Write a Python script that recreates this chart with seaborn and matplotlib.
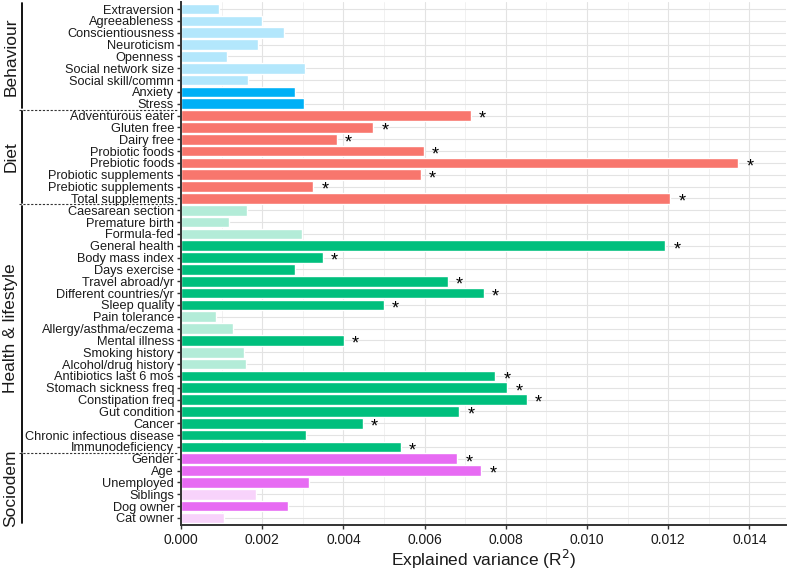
import matplotlib
matplotlib.use("Agg")
import matplotlib.pyplot as plt
import matplotlib.colors as mcolors
import matplotlib.transforms as mtransforms
from matplotlib.ticker import MultipleLocator
import pandas as pd
import seaborn as sns

# Data
labels = [
    "Extraversion", "Agreeableness", "Conscientiousness", "Neuroticism", "Openness",
    "Social network size", "Social skill/commn", "Anxiety", "Stress",
    "Adventurous eater", "Gluten free", "Dairy free", "Probiotic foods", "Prebiotic foods",
    "Probiotic supplements", "Prebiotic supplements", "Total supplements",
    "Caesarean section", "Premature birth", "Formula-fed", "General health", "Body mass index",
    "Days exercise", "Travel abroad/yr", "Different countries/yr", "Sleep quality",
    "Pain tolerance", "Allergy/asthma/eczema", "Mental illness", "Smoking history",
    "Alcohol/drug history", "Antibiotics last 6 mos", "Stomach sickness freq",
    "Constipation freq", "Gut condition", "Cancer", "Chronic infectious disease",
    "Immunodeficiency",
    "Gender", "Age", "Unemployed", "Siblings", "Dog owner", "Cat owner",
]
values = [
    0.00093, 0.00200, 0.00254, 0.00190, 0.00113, 0.00306, 0.00164, 0.00280, 0.00304,
    0.00713, 0.00474, 0.00383, 0.00598, 0.01373, 0.00590, 0.00326, 0.01205,
    0.00162, 0.00117, 0.00298, 0.01193, 0.00349, 0.00280, 0.00657, 0.00745, 0.00499,
    0.00085, 0.00129, 0.00401, 0.00155, 0.00161, 0.00774, 0.00803, 0.00852, 0.00685,
    0.00447, 0.00309, 0.00541,
    0.00680, 0.00739, 0.00316, 0.00185, 0.00264, 0.00107,
]
groups = (["Behaviour"] * 9 + ["Diet"] * 8 + ["Health & lifestyle"] * 21 + ["Sociodem"] * 6)
significant = [
    0, 0, 0, 0, 0, 0, 0, 1, 1,
    1, 1, 1, 1, 1, 1, 1, 1,
    0, 0, 0, 1, 1, 1, 1, 1, 1, 0, 0, 1, 0, 0, 1, 1, 1, 1, 1, 1, 1,
    1, 1, 1, 0, 1, 0,
]
starred = [
    0, 0, 0, 0, 0, 0, 0, 0, 0,
    1, 1, 1, 1, 1, 1, 1, 1,
    0, 0, 0, 1, 1, 0, 1, 1, 1, 0, 0, 1, 0, 0, 1, 1, 1, 1, 1, 0, 1,
    1, 1, 0, 0, 0, 0,
]
group_names = ["Behaviour", "Diet", "Health & lifestyle", "Sociodem"]
group_colors = {"Behaviour": "#00B0F6", "Diet": "#F8766D",
                "Health & lifestyle": "#00BF7D", "Sociodem": "#E76BF3"}


def lighten(color, alpha=0.3):
    r, g, b = mcolors.to_rgb(color)
    return (1 - alpha + alpha * r, 1 - alpha + alpha * g, 1 - alpha + alpha * b)


df = pd.DataFrame({"label": labels, "value": values, "group": groups,
                   "sig": significant, "star": starred})
bar_colors = [group_colors[g] if s else lighten(group_colors[g])
              for g, s in zip(df["group"], df["sig"])]

sns.set_style("white")
plt.rcParams["font.family"] = ["Liberation Sans", "DejaVu Sans"]

fig = plt.figure(figsize=(7.94, 5.74), dpi=100)
ax = fig.add_axes([181 / 794, 1 - 525 / 574, (786 - 181) / 794, 523 / 574])

sns.barplot(data=df, x="value", y="label", hue="label", palette=bar_colors,
            order=labels, hue_order=labels, legend=False, width=0.9,
            saturation=1, orient="h", ax=ax)

ax.set_xlim(0, 0.0149)
ax.set_ylim(len(labels) - 0.4, -0.6)
ax.xaxis.set_major_locator(MultipleLocator(0.002))
ax.xaxis.set_minor_locator(MultipleLocator(0.001))
ax.xaxis.set_major_formatter(matplotlib.ticker.FormatStrFormatter("%.3f"))
ax.set_axisbelow(True)
ax.grid(True, which="major", axis="both", color="#e3e3e3", linewidth=0.8)
ax.grid(True, which="minor", axis="x", color="#efefef", linewidth=0.6)

for side in ["top", "right"]:
    ax.spines[side].set_visible(False)
for side in ["left", "bottom"]:
    ax.spines[side].set_color("#333333")
    ax.spines[side].set_linewidth(1.4)
ax.tick_params(axis="both", which="major", length=3, width=1.0, color="#333333",
               labelsize=9.2, labelcolor="#1a1a1a", pad=2, left=True, bottom=True)
ax.tick_params(axis="x", labelsize=10, pad=3)
ax.tick_params(axis="both", which="minor", length=0)

ax.set_ylabel("")
ax.set_xlabel("Explained variance (R$^2$)", fontsize=12.5, color="#1a1a1a")
ax.xaxis.set_label_coords(0.5, -0.044)

# significance stars
for i, row in df.iterrows():
    if row["star"]:
        ax.text(row["value"] + 0.00029, i + 0.32, "*", fontsize=13,
                ha="center", va="center", color="black")

# group brackets on the left
trans = mtransforms.blended_transform_factory(fig.transFigure, ax.transData)
start = 0
for k, name in enumerate(group_names):
    n = groups.count(name)
    end = start + n - 1
    top = start - 0.55 if k == 0 else start - 0.4
    bottom = end + 0.4 if k < len(group_names) - 1 else end + 0.45
    ax.plot([22 / 794, 22 / 794], [top, bottom], color="black", lw=1.3,
            transform=trans, clip_on=False)
    ax.text(11 / 794, (start + end) / 2, name, rotation=90, ha="center", va="center",
            fontsize=12.5, color="#1a1a1a", transform=trans)
    if k < len(group_names) - 1:
        ax.plot([19 / 794, 178 / 794], [end + 0.5, end + 0.5], color="#333333",
                lw=0.8, ls=(0, (2, 1.5)), transform=trans, clip_on=False)
    start = end + 1

fig.savefig("out.png", dpi=100)
